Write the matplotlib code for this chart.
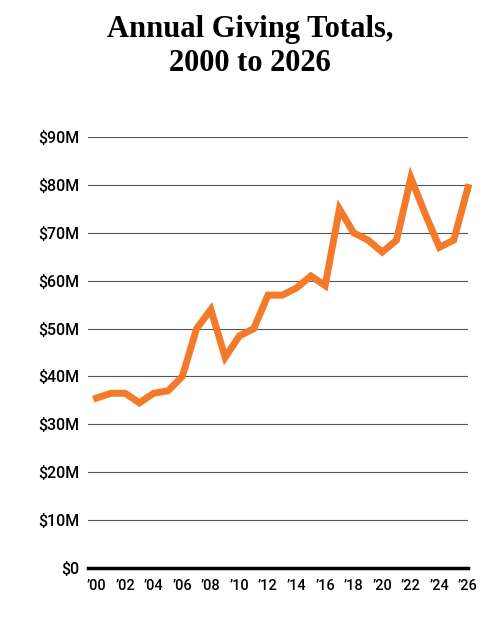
import matplotlib.pyplot as plt

years = list(range(2000, 2027))
totals = [35.5, 36.5, 36.5, 34.5, 36.5, 37, 40, 50, 54, 44, 48.5, 50, 57, 57, 58.5,
          61, 59, 75, 70, 68.5, 66, 68.5, 81.5, 74, 67, 68.5, 79.5]
yticks = list(range(0, 100, 10))
ylabels = ["$0"] + [f"${v}M" for v in yticks[1:]]
xticks = list(range(2000, 2027, 2))
xlabels = [f"\u2019{y % 100:02d}" for y in xticks]

fig = plt.figure(figsize=(5, 6.18), dpi=100)
ax = fig.add_axes([0.176, 0.081, 0.76, 0.697])

ax.plot(years, totals, color="#f47a2a", linewidth=5, solid_joinstyle="miter",
        clip_on=False, zorder=3)

ax.set_ylim(0, 90)
ax.set_xlim(1999.4, 2026.0)
ax.set_yticks(yticks)
ax.set_yticklabels(ylabels)
ax.set_xticks(xticks)
ax.set_xticklabels(xlabels)
ax.grid(axis="y", color="#555555", linewidth=0.8)
ax.set_axisbelow(True)
for s in ["top", "right", "left"]:
    ax.spines[s].set_visible(False)
ax.spines["bottom"].set_linewidth(2.5)
ax.spines["bottom"].set_color("black")
ax.tick_params(axis="y", length=0, labelsize=11.5, pad=6)
ax.tick_params(axis="x", length=0, labelsize=10.5, pad=8)
for lab in ax.get_xticklabels() + ax.get_yticklabels():
    lab.set_family(["Roboto", "DejaVu Sans"])
    lab.set_fontweight("medium")

fig.text(0.5, 0.925, "Annual Giving Totals,\n2000 to 2026", ha="center", va="center",
         fontsize=22, fontweight="bold", family=["Liberation Serif", "DejaVu Serif"],
         linespacing=1.25)

fig.savefig("out.png", dpi=100)
